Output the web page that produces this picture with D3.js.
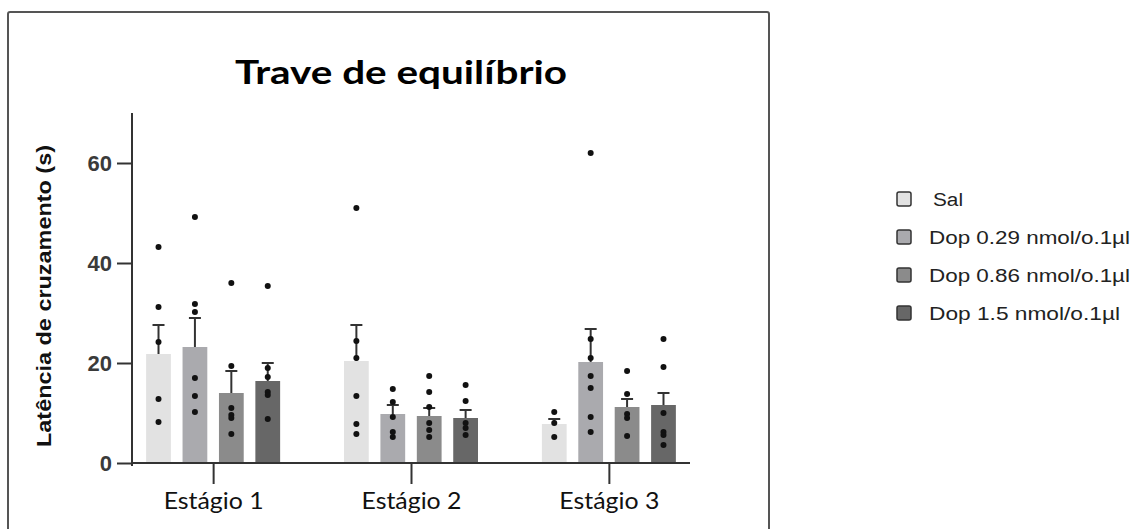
<!DOCTYPE html>
<html>
<head>
<meta charset="utf-8">
<script src="https://cdn.jsdelivr.net/npm/d3@7"></script>
<style>
  body { margin: 0; background: #fff; }
  svg { display: block; }
</style>
</head>
<body>
<div id="chart"></div>
<script>
var stages = ["Estágio 1", "Estágio 2", "Estágio 3"];
var series = ["Sal", "Dop 0.29 nmol/o.1µl", "Dop 0.86 nmol/o.1µl", "Dop 1.5 nmol/o.1µl"];
var colors = ["#e2e2e2", "#aaaaae", "#8b8b8b", "#676767"];

// means per series, one value for each stage
var meanSal = [21.8, 20.4, 7.8];
var meanD029 = [23.2, 9.8, 20.2];
var meanD086 = [14.0, 9.4, 11.2];
var meanD15 = [16.4, 9.0, 11.6];

// SEM (upper error bar)
var semSal = [5.8, 7.2, 1.0];
var semD029 = [5.8, 1.8, 6.6];
var semD086 = [4.4, 1.6, 1.6];
var semD15 = [3.6, 1.6, 2.4];

// individual animals
var ptsSal = [[43.2, 31.2, 24.2, 12.8, 8.2], [51, 24.4, 21, 13.4, 7.8, 5.8], [10.2, 8, 5.2]];
var ptsD029 = [[49.2, 31.8, 30.2, 17, 13.4, 10.2], [14.8, 12.2, 9.2, 6.2, 5.2], [62, 24.8, 21, 17.4, 15, 9.2, 6.2]];
var ptsD086 = [[36, 19.4, 11, 9.6, 9, 5.8], [17.4, 14.2, 11.2, 8, 6.6, 5.2], [18.4, 13.8, 9.8, 9, 5.4]];
var ptsD15 = [[35.4, 19, 17.2, 14.2, 13.6, 8.8], [15.6, 12.4, 8, 7, 5.6], [24.8, 19.2, 10, 6.2, 5.6, 3.6]];

var yTicks = [0, 20, 40, 60];

var means = [meanSal, meanD029, meanD086, meanD15];
var sems = [semSal, semD029, semD086, semD15];
var pts = [ptsSal, ptsD029, ptsD086, ptsD15];

var data = [];
stages.forEach(function(st, i) {
  series.forEach(function(s, j) {
    data.push({stage: st, series: s, color: colors[j], mean: means[j][i], sem: sems[j][i], pts: pts[j][i]});
  });
});

var W = 1140, H = 529;
var svg = d3.select("#chart").append("svg").attr("width", W).attr("height", H);

// frame
svg.append("rect")
  .attr("x", 8).attr("y", 12).attr("width", 761).attr("height", 540)
  .attr("rx", 2)
  .attr("fill", "none").attr("stroke", "#555").attr("stroke-width", 2);

svg.append("text")
  .attr("x", 401).attr("y", 84)
  .attr("text-anchor", "middle")
  .style("font-family", "Lato, 'Open Sans', sans-serif")
  .style("font-weight", "bold").style("font-size", "33px")
  .attr("textLength", 332).attr("lengthAdjust", "spacingAndGlyphs")
  .text("Trave de equilíbrio");

var pLeft = 132, pRight = 690, pTop = 113, pBottom = 463;

var y = d3.scaleLinear().domain([0, 70]).range([pBottom, pTop]);
var x0 = d3.scalePoint().domain(stages).range([pLeft, pRight]).padding(0.41);
var x1 = d3.scaleBand().domain(series).range([-67, 67]).paddingInner(0.32);

var g = svg.append("g");

var grp = g.selectAll(".grp").data(data).enter().append("g")
  .attr("class", "grp")
  .attr("transform", function(d) { return "translate(" + (x0(d.stage) + x1(d.series)) + ",0)"; });

var bw = x1.bandwidth();

grp.append("rect")
  .attr("x", 0).attr("width", bw)
  .attr("y", function(d) { return y(d.mean); })
  .attr("height", function(d) { return y(0) - y(d.mean); })
  .attr("fill", function(d) { return d.color; });

grp.append("line")
  .attr("x1", bw / 2).attr("x2", bw / 2)
  .attr("y1", function(d) { return y(d.mean); })
  .attr("y2", function(d) { return y(d.mean + d.sem); })
  .attr("stroke", "#333").attr("stroke-width", 2);

grp.append("line")
  .attr("x1", bw / 2 - 6).attr("x2", bw / 2 + 6)
  .attr("y1", function(d) { return y(d.mean + d.sem); })
  .attr("y2", function(d) { return y(d.mean + d.sem); })
  .attr("stroke", "#333").attr("stroke-width", 2);

grp.selectAll("circle").data(function(d) { return d.pts; }).enter().append("circle")
  .attr("cx", bw / 2)
  .attr("cy", function(v) { return y(v); })
  .attr("r", 3)
  .attr("fill", "#111");

// y axis
var yAxis = d3.axisLeft(y).tickValues(yTicks).tickSize(15).tickPadding(5);
var ya = svg.append("g").attr("transform", "translate(" + pLeft + ",0)").call(yAxis);
ya.select(".domain").attr("d", "M0," + pTop + "V" + (pBottom + 3));
ya.selectAll("line, .domain").attr("stroke", "#333").attr("stroke-width", 2);
ya.selectAll("text")
  .style("font-family", "'Liberation Sans', Arial, sans-serif")
  .style("font-size", "22px").style("font-weight", "bold").attr("fill", "#3a3a3a");

// x axis
var xAxis = d3.axisBottom(x0).tickSize(21).tickPadding(9);
var xa = svg.append("g").attr("transform", "translate(0," + pBottom + ")").call(xAxis);
xa.select(".domain").attr("d", "M" + pLeft + ",0H" + pRight);
xa.selectAll("line, .domain").attr("stroke", "#333").attr("stroke-width", 2);
xa.selectAll("text")
  .style("font-family", "Lato, 'Open Sans', sans-serif")
  .style("font-size", "23px").attr("fill", "#111")
  .attr("textLength", 100).attr("lengthAdjust", "spacingAndGlyphs");

svg.append("text")
  .attr("transform", "translate(51,296) rotate(-90)")
  .attr("text-anchor", "middle")
  .style("font-family", "'Liberation Sans', Arial, sans-serif")
  .style("font-weight", "bold").style("font-size", "20px")
  .attr("fill", "#111")
  .attr("textLength", 302).attr("lengthAdjust", "spacingAndGlyphs")
  .text("Latência de cruzamento (s)");

// legend
var legLen = [30, 201, 201, 191];
var leg = svg.selectAll(".leg").data(series).enter().append("g")
  .attr("class", "leg")
  .attr("transform", function(d, i) { return "translate(897," + (199 + i * 38) + ")"; });

leg.append("rect")
  .attr("x", 0).attr("y", -7).attr("width", 14).attr("height", 14).attr("rx", 2)
  .attr("fill", function(d, i) { return colors[i]; })
  .attr("stroke", "#333").attr("stroke-width", 1.5);

leg.append("text")
  .attr("x", function(d, i) { return i === 0 ? 36 : 32; })
  .attr("y", 7)
  .style("font-family", "'Liberation Sans', Arial, sans-serif")
  .style("font-size", "18px").attr("fill", "#222")
  .attr("textLength", function(d, i) { return legLen[i]; })
  .attr("lengthAdjust", "spacingAndGlyphs")
  .text(function(d) { return d; });
</script>
</body>
</html>
